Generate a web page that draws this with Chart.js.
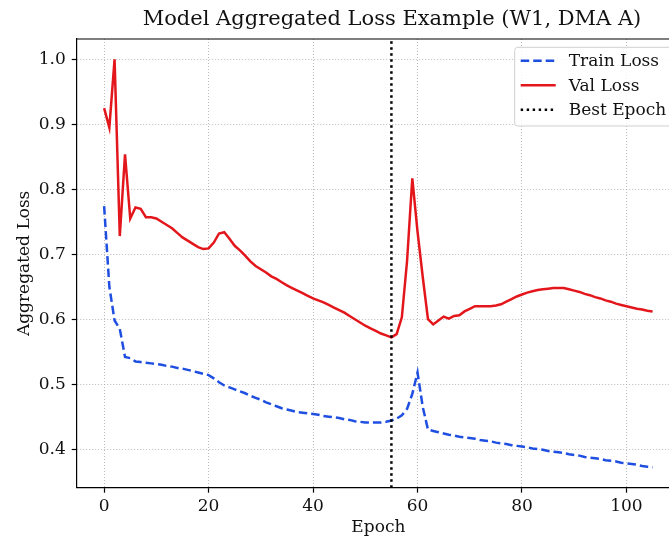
<!DOCTYPE html>
<html>
<head>
<meta charset="utf-8">
<script src="https://cdn.jsdelivr.net/npm/chart.js@4/dist/chart.umd.min.js"></script>
<style>
  html, body { margin: 0; padding: 0; background: #fff; overflow: hidden; }
  #wrap { position: relative; width: 700px; height: 537px; }
</style>
</head>
<body>
<div id="wrap"><canvas id="loss-chart"></canvas></div>
<script>
// values
const epochs = [
    0, 1, 2, 3, 4, 5, 6, 7, 8, 9, 10, 11, 12, 13, 14, 15, 16, 17, 18, 19,
    20, 21, 22, 23, 24, 25, 26, 27, 28, 29, 30, 31, 32, 33, 34, 35, 36, 37, 38, 39,
    40, 41, 42, 43, 44, 45, 46, 47, 48, 49, 50, 51, 52, 53, 54, 55, 56, 57, 58, 59,
    60, 61, 62, 63, 64, 65, 66, 67, 68, 69, 70, 71, 72, 73, 74, 75, 76, 77, 78, 79,
    80, 81, 82, 83, 84, 85, 86, 87, 88, 89, 90, 91, 92, 93, 94, 95, 96, 97, 98, 99,
    100, 101, 102, 103, 104, 105
];

const trainLoss = [
    0.774, 0.650, 0.598, 0.585, 0.542, 0.540, 0.535, 0.534, 0.533, 0.532,
    0.531, 0.530, 0.528, 0.527, 0.525, 0.524, 0.522, 0.520, 0.518, 0.516,
    0.514, 0.509, 0.503, 0.498, 0.495, 0.492, 0.489, 0.486, 0.482, 0.479,
    0.476, 0.472, 0.469, 0.466, 0.463, 0.461, 0.459, 0.457, 0.456, 0.455,
    0.454, 0.453, 0.451, 0.450, 0.449, 0.448, 0.446, 0.445, 0.443, 0.442,
    0.441, 0.441, 0.441, 0.441, 0.442, 0.444, 0.447, 0.452, 0.462, 0.485,
    0.518, 0.465, 0.430, 0.428, 0.426, 0.424, 0.422, 0.421, 0.419, 0.418,
    0.417, 0.416, 0.414, 0.413, 0.412, 0.410, 0.409, 0.408, 0.406, 0.405,
    0.404, 0.403, 0.401, 0.400, 0.399, 0.397, 0.396, 0.395, 0.394, 0.392,
    0.391, 0.390, 0.388, 0.387, 0.386, 0.385, 0.383, 0.382, 0.381, 0.379,
    0.378, 0.377, 0.376, 0.374, 0.373, 0.372
];

const valLoss = [
    0.925, 0.895, 1.000, 0.728, 0.854, 0.755, 0.772, 0.770, 0.757, 0.757,
    0.755, 0.750, 0.745, 0.740, 0.733, 0.726, 0.721, 0.716, 0.711, 0.708,
    0.709, 0.718, 0.732, 0.734, 0.724, 0.713, 0.706, 0.698, 0.689, 0.682,
    0.677, 0.672, 0.666, 0.662, 0.657, 0.652, 0.648, 0.644, 0.640, 0.636,
    0.632, 0.629, 0.626, 0.622, 0.618, 0.614, 0.610, 0.605, 0.600, 0.595,
    0.590, 0.586, 0.582, 0.578, 0.575, 0.572, 0.577, 0.603, 0.690, 0.817,
    0.735, 0.665, 0.600, 0.592, 0.598, 0.604, 0.601, 0.605, 0.606, 0.612,
    0.616, 0.620, 0.620, 0.620, 0.620, 0.621, 0.623, 0.627, 0.631, 0.635,
    0.638, 0.641, 0.643, 0.645, 0.646, 0.647, 0.648, 0.648, 0.648, 0.646,
    0.644, 0.642, 0.639, 0.637, 0.634, 0.632, 0.629, 0.627, 0.624, 0.622,
    0.620, 0.618, 0.616, 0.615, 0.613, 0.612
];

const bestEpoch = 55;

const xTicks = [0, 20, 40, 60, 80, 100];
const yTicks = [0.4, 0.5, 0.6, 0.7, 0.8, 0.9, 1.0];

const xMin = -5.25, xMax = 110.25;
const yMin = 0.3406, yMax = 1.0314;

const SERIF = "'DejaVu Serif', serif";
const TRAIN_COLOR = '#1f4fe0';
const VAL_COLOR = '#e3161b';

function toPoints(xs, ys) {
    return xs.map((x, i) => ({x: x, y: ys[i]}));
}

// title, legend box and top/right spines, drawn the matplotlib way
const decorations = {
    id: 'decorations',
    afterDraw(chart) {
        const ctx = chart.ctx;
        const area = chart.chartArea;

        ctx.save();
        ctx.strokeStyle = '#000';
        ctx.lineWidth = 1.2;
        ctx.beginPath();
        ctx.moveTo(area.left, area.top);
        ctx.lineTo(area.right, area.top);
        ctx.lineTo(area.right, area.bottom);
        ctx.stroke();

        ctx.fillStyle = '#111';
        ctx.font = '21px ' + SERIF;
        ctx.textAlign = 'center';
        ctx.textBaseline = 'middle';
        ctx.fillText('Model Aggregated Loss Example (W1, DMA A)', 392, 20);

        // legend
        const boxRight = area.right - 7;
        const boxLeft = area.left + 438;
        const boxTop = area.top + 8.3;
        const boxH = 78.7;
        ctx.beginPath();
        ctx.roundRect(boxLeft, boxTop, boxRight - boxLeft, boxH, 3);
        ctx.fillStyle = 'rgba(255,255,255,0.85)';
        ctx.fill();
        ctx.strokeStyle = '#d0d0d0';
        ctx.lineWidth = 1;
        ctx.stroke();

        const items = [
            {text: 'Train Loss', color: TRAIN_COLOR, dash: [8.5, 4]},
            {text: 'Val Loss', color: VAL_COLOR, dash: []},
            {text: 'Best Epoch', color: '#000', dash: [2.4, 3.6]}
        ];
        ctx.font = '17px ' + SERIF;
        ctx.textAlign = 'left';
        items.forEach((it, i) => {
            const y = boxTop + 13.4 + i * 24.5;
            ctx.beginPath();
            ctx.setLineDash(it.dash);
            ctx.strokeStyle = it.color;
            ctx.lineWidth = 2.4;
            ctx.moveTo(boxLeft + 6, y);
            ctx.lineTo(boxLeft + 41, y);
            ctx.stroke();
            ctx.setLineDash([]);
            ctx.fillStyle = '#111';
            ctx.fillText(it.text, boxLeft + 54, y + 1);
        });
        ctx.restore();
    }
};

const gridOpts = {
    color: 'rgba(170,170,170,0.8)',
    lineWidth: 1,
    tickLength: 5,
    tickColor: '#000',
    tickWidth: 1.2,
    tickBorderDash: []
};

new Chart(document.getElementById('loss-chart'), {
    type: 'line',
    data: {
        datasets: [
            {
                label: 'Train Loss',
                data: toPoints(epochs, trainLoss),
                borderColor: TRAIN_COLOR,
                borderWidth: 2.5,
                borderDash: [8.5, 4],
                pointRadius: 0,
                tension: 0,
                order: 2
            },
            {
                label: 'Val Loss',
                data: toPoints(epochs, valLoss),
                borderColor: VAL_COLOR,
                borderWidth: 2.5,
                pointRadius: 0,
                tension: 0,
                order: 1
            },
            {
                label: 'Best Epoch',
                data: [{x: bestEpoch, y: yMin}, {x: bestEpoch, y: yMax}],
                borderColor: '#000',
                borderWidth: 2.5,
                borderDash: [2.4, 3.6],
                pointRadius: 0,
                order: 0
            }
        ]
    },
    options: {
        responsive: true,
        maintainAspectRatio: false,
        animation: false,
        layout: {padding: {left: 0, right: 20, top: 39, bottom: 0}},
        plugins: {
            legend: {display: false},
            tooltip: {enabled: false},
            title: {display: false}
        },
        scales: {
            x: {
                type: 'linear',
                min: xMin,
                max: xMax,
                afterBuildTicks: s => { s.ticks = xTicks.map(v => ({value: v})); },
                afterFit: s => { s.height = 49.3; },
                ticks: {
                    font: {family: SERIF, size: 17},
                    color: '#111',
                    padding: 4,
                    maxRotation: 0,
                    autoSkip: false,
                    callback: v => String(v)
                },
                grid: gridOpts,
                border: {display: true, color: '#000', width: 1.2, dash: [1, 2]},
                title: {
                    display: true,
                    text: 'Epoch',
                    font: {family: SERIF, size: 17},
                    color: '#111',
                    padding: {top: 0, bottom: -1}
                }
            },
            y: {
                type: 'linear',
                min: yMin,
                max: yMax,
                afterBuildTicks: s => { s.ticks = yTicks.map(v => ({value: v})); },
                afterFit: s => { s.width = 76.7; },
                ticks: {
                    font: {family: SERIF, size: 17},
                    color: '#111',
                    padding: 6,
                    autoSkip: false,
                    callback: v => v.toFixed(1)
                },
                grid: gridOpts,
                border: {display: true, color: '#000', width: 1.2, dash: [1, 2]},
                title: {
                    display: true,
                    text: 'Aggregated Loss',
                    font: {family: SERIF, size: 17},
                    color: '#111',
                    padding: {top: 14, bottom: 0}
                }
            }
        }
    },
    plugins: [decorations]
});
</script>
</body>
</html>
